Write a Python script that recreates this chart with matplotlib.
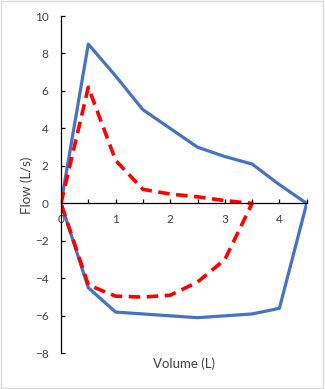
import numpy as np
import matplotlib.pyplot as plt
from matplotlib.patches import Rectangle
from matplotlib.ticker import FuncFormatter

# normal loop (blue)
normal_vol = [0, 0.5, 1, 1.5, 2, 2.5, 3, 3.5, 4, 4.5, 4, 3.5, 3, 2.5, 2, 1.5, 1, 0.5, 0]
normal_flow = [0, 8.5, 6.8, 5.0, 4.0, 3.0, 2.5, 2.1, 1.0, 0, -5.6, -5.9, -6.0, -6.1, -6.0, -5.9, -5.8, -4.5, 0]

# obstructed loop (red dashed)
obst_vol = [0, 0.5, 1, 1.5, 2, 2.5, 3, 3.5, 3.35, 3, 2.5, 2, 1.5, 1, 0.5, 0]
obst_flow = [0, 6.2, 2.3, 0.75, 0.5, 0.35, 0.15, 0, -0.9, -3.0, -4.2, -4.9, -5.0, -4.95, -4.35, 0]

y_ticks = [-8, -6, -4, -2, 0, 2, 4, 6, 8, 10]

plt.rcParams['font.family'] = ['Lato', 'DejaVu Sans']

fig = plt.figure(figsize=(3.25, 3.89), dpi=100)
fig.patches.append(Rectangle((0.004, 0.003), 0.99, 0.994, transform=fig.transFigure,
                             fill=False, edgecolor='#d9d9d9', linewidth=1))

W, H = 325, 389
ax = fig.add_axes([61 / W, (H - 353.3) / H, 245.7 / W, 337.3 / H])

ax.plot(normal_vol, normal_flow, color='#4472c4', linewidth=2.3, solid_joinstyle='round')
ax.plot(obst_vol, obst_flow, color='#ff0000', linewidth=2.6, dashes=(3.2, 1.8))

ax.set_xlim(0, 4.5)
ax.set_ylim(-8, 10)

for s in ['top', 'right']:
    ax.spines[s].set_visible(False)
ax.spines['bottom'].set_position(('data', 0))
ax.spines['left'].set_position(('data', 0))
for s in ['bottom', 'left']:
    ax.spines[s].set_color('black')
    ax.spines[s].set_linewidth(0.9)

ax.set_yticks(y_ticks)
ax.set_xticks(np.arange(0, 4.51, 0.5))
ax.xaxis.set_major_formatter(FuncFormatter(lambda v, p: '%d' % v if abs(v - round(v)) < 1e-6 and v < 4.5 else ''))
ax.tick_params(axis='x', direction='in', length=3, width=0.9, labelsize=8.5,
               labelcolor='#404040', pad=7.5)
ax.tick_params(axis='y', direction='in', length=3, width=0.9, labelsize=8.5,
               labelcolor='#404040', pad=9)

fig.text(27 / W, 1 - 185 / H, 'Flow (L/s)', rotation=90, ha='center', va='center',
         fontsize=9.5, color='#404040')
fig.text(184 / W, 1 - 364 / H, 'Volume (L)', ha='center', va='center',
         fontsize=9.5, color='#404040')

fig.savefig('out.png', dpi=100)
